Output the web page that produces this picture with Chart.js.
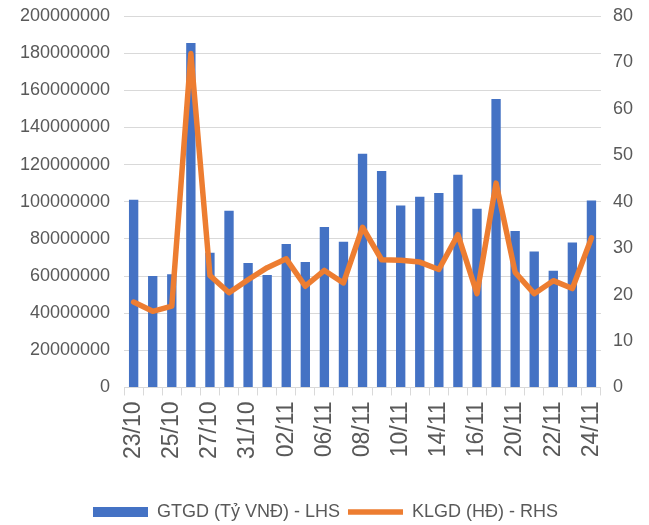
<!DOCTYPE html>
<html>
<head>
<meta charset="utf-8">
<script src="https://cdn.jsdelivr.net/npm/chart.js@4/dist/chart.umd.min.js"></script>
<style>
  html, body { margin: 0; padding: 0; background: #fff; }
  #wrap { width: 649px; height: 525px; position: relative; }
</style>
</head>
<body>
<div id="wrap"><canvas id="gtgdChart"></canvas></div>
<script>
// ngay giao dich
const ngay = ['23/10', '24/10', '25/10', '26/10', '27/10', '30/10', '31/10', '01/11', '02/11', '03/11',
  '06/11', '07/11', '08/11', '09/11', '10/11', '13/11', '14/11', '15/11', '16/11', '17/11',
  '20/11', '21/11', '22/11', '23/11', '24/11'];

// GTGD (Ty VND) - truc trai
const gtgd = [101000000, 60000000, 61000000, 185500000, 72500000, 95200000, 67000000, 60500000, 77300000, 67600000,
  86400000, 78400000, 125800000, 116600000, 97900000, 102700000, 104700000, 114500000, 96200000, 155300000,
  84300000, 73200000, 62800000, 78000000, 100700000];

// KLGD (HD) - truc phai
const klgd = [18.4, 16.4, 17.5, 71.9, 24.1, 20.4, 23.2, 25.8, 27.7, 21.8,
  25.2, 22.5, 34.5, 27.5, 27.4, 27.0, 25.4, 32.9, 20.2, 44.0,
  24.8, 20.2, 23.0, 21.3, 32.2];

const mauChu = '#595959';
const mauLuoi = '#d9d9d9';
const font = 'Arial, "Liberation Sans", sans-serif';

// chinh khoang cach phia tren vung ve
const canhTren = s => { s.paddingTop = 16; };

const ctx = document.getElementById('gtgdChart').getContext('2d');

new Chart(ctx, {
  data: {
    labels: ngay,
    datasets: [
      {
        type: 'bar',
        label: 'GTGD (Tỷ VNĐ) - LHS',
        data: gtgd,
        yAxisID: 'y',
        backgroundColor: '#4472C4',
        borderWidth: 0,
        categoryPercentage: 1,
        barPercentage: 0.49,
        pointStyle: 'rect',
        order: 1
      },
      {
        type: 'line',
        label: 'KLGD (HĐ) - RHS',
        data: klgd,
        yAxisID: 'y1',
        borderColor: '#ED7D31',
        backgroundColor: '#ED7D31',
        borderWidth: 5.5,
        borderJoinStyle: 'round',
        borderCapStyle: 'round',
        pointRadius: 0,
        pointStyle: 'line',
        tension: 0,
        order: 0
      }
    ]
  },
  options: {
    responsive: true,
    maintainAspectRatio: false,
    animation: false,
    layout: { padding: { left: 6, right: 4, top: 0, bottom: -6 } },
    plugins: {
      tooltip: { enabled: false },
      legend: {
        position: 'bottom',
        labels: {
          usePointStyle: true,
          pointStyleWidth: 55,
          boxHeight: 10,
          padding: 8,
          color: mauChu,
          font: { family: font, size: 18 },
          sort: (a, b) => a.datasetIndex - b.datasetIndex
        }
      }
    },
    scales: {
      x: {
        afterFit: function (scale) { scale.height += 30; },
        grid: {
          drawOnChartArea: false,
          color: mauLuoi,
          tickLength: 8,
          offset: true
        },
        border: { color: mauLuoi },
        ticks: {
          autoSkip: false,
          maxRotation: 90,
          minRotation: 90,
          padding: 6,
          color: mauChu,
          font: { family: font, size: 23 },
          callback: function (val, i) { return i % 2 === 0 ? this.getLabelForValue(val) : ''; }
        }
      },
      y: {
        position: 'left',
        min: 0,
        max: 200000000,
        afterFit: canhTren,
        grid: { color: mauLuoi, drawTicks: false },
        border: { display: false },
        ticks: {
          stepSize: 20000000,
          padding: 14,
          color: mauChu,
          font: { family: font, size: 18 },
          callback: v => String(v)
        }
      },
      y1: {
        position: 'right',
        min: 0,
        max: 80,
        afterFit: canhTren,
        grid: { drawOnChartArea: false, drawTicks: false },
        border: { display: false },
        ticks: {
          stepSize: 10,
          padding: 12,
          color: mauChu,
          font: { family: font, size: 18 }
        }
      }
    }
  }
});
</script>
</body>
</html>
